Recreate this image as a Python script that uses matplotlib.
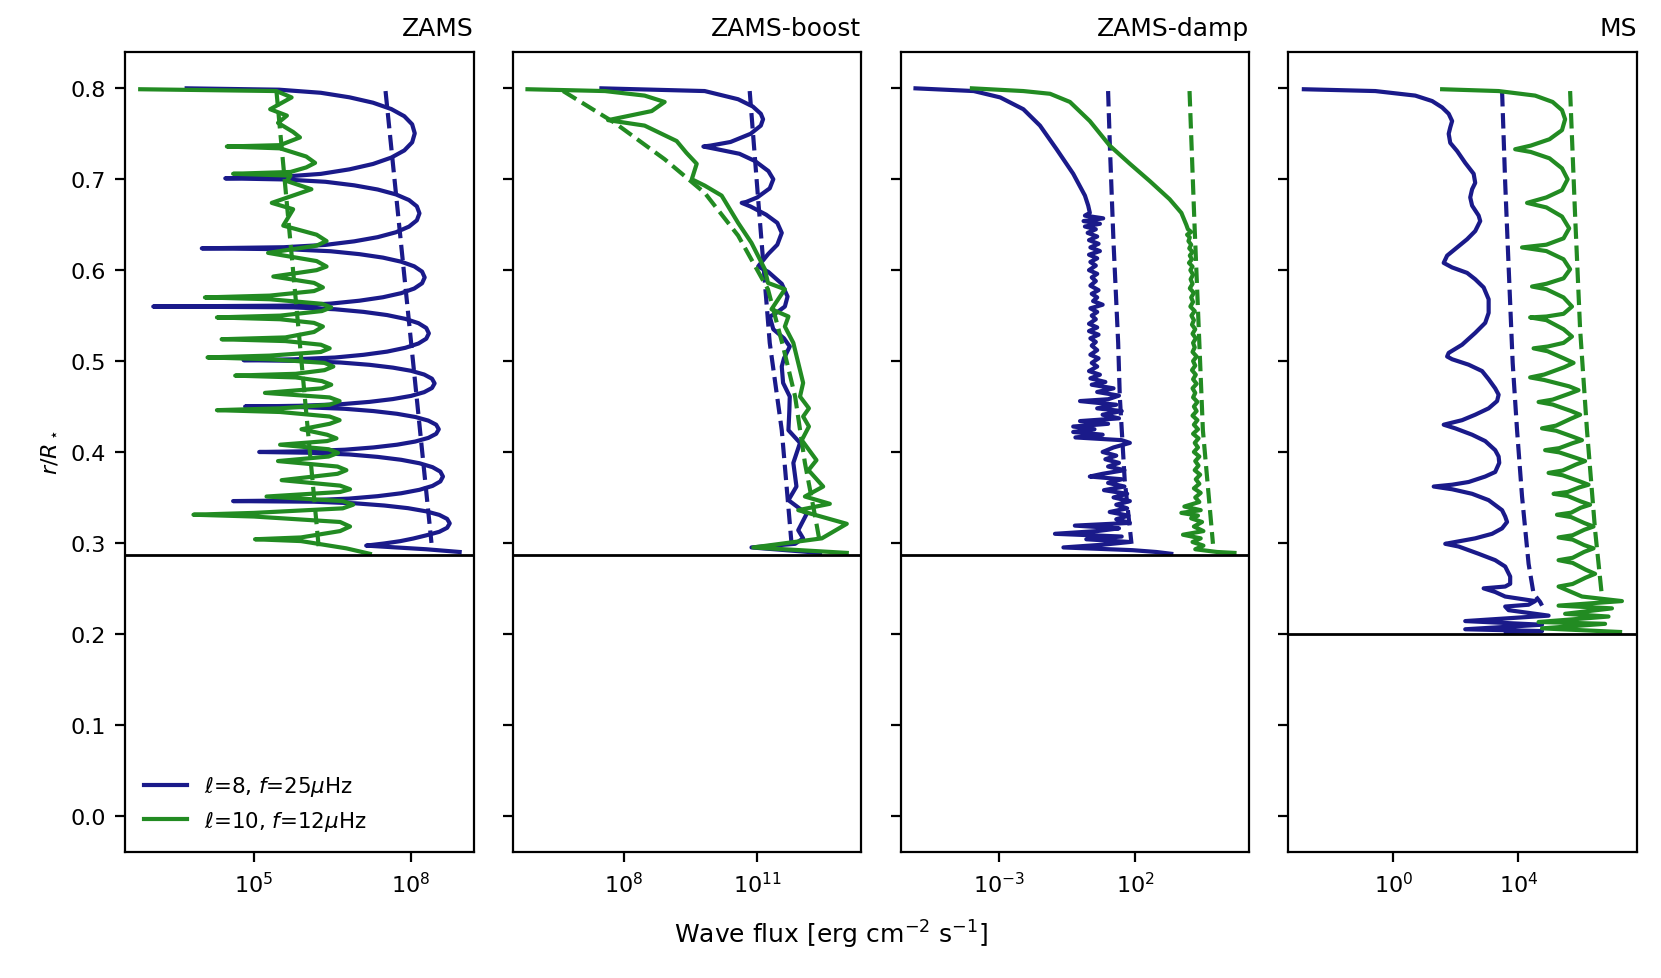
import numpy as np
import matplotlib.pyplot as plt

plt.rcParams["font.size"] = 8

# ---- ZAMS ----
zams_l8_r = [0.800,
             0.7985, 0.7951, 0.7901, 0.7842, 0.7772, 0.7693, 0.7604, 0.7505, 0.7406, 0.7317, 0.7238, 0.7168, 0.7109, 0.7059, 0.7025, 0.701,
             0.6998, 0.6972, 0.6933, 0.6887, 0.6833, 0.6771, 0.6702, 0.6625, 0.6548, 0.6479, 0.6417, 0.6363, 0.6317, 0.6278, 0.6252, 0.624,
             0.6230, 0.6208, 0.6176, 0.6138, 0.6093, 0.6042, 0.5984, 0.592, 0.5856, 0.5798, 0.5747, 0.5702, 0.5664, 0.5632, 0.5610, 0.560,
             0.5591, 0.557, 0.5541, 0.5506, 0.5464, 0.5417, 0.5364, 0.5305, 0.5246, 0.5193, 0.5146, 0.5104, 0.5069, 0.5039, 0.5019, 0.501,
             0.5002, 0.4984, 0.4959, 0.4928, 0.4893, 0.4852, 0.4806, 0.4755, 0.4704, 0.4658, 0.4617, 0.4582, 0.4551, 0.4525, 0.4508, 0.450,
             0.4493, 0.4475, 0.445, 0.442, 0.4385, 0.4345, 0.430, 0.425, 0.420, 0.4155, 0.4115, 0.408, 0.405, 0.4025, 0.4007, 0.400,
             0.3992, 0.3973, 0.3946, 0.3914, 0.3876, 0.3833, 0.3784, 0.373, 0.3676, 0.3627, 0.3584, 0.3546, 0.3514, 0.3487, 0.3468, 0.346,
             0.3453, 0.3435, 0.3411, 0.3382, 0.3347, 0.3308, 0.3264, 0.3215, 0.3166, 0.3122, 0.3083, 0.3048, 0.3019, 0.2994, 0.2977, 0.297,
             0.293, 0.290]
zams_l8_logF = [3.71,
                5.48, 6.28, 6.83, 7.28, 7.63, 7.88, 8.03, 8.08, 8.03, 7.88, 7.63, 7.28, 6.83, 6.28, 5.48, 4.45,
                5.57, 6.37, 6.92, 7.37, 7.72, 7.97, 8.12, 8.17, 8.12, 7.97, 7.72, 7.37, 6.92, 6.37, 5.57, 4.00,
                5.67, 6.47, 7.02, 7.47, 7.82, 8.07, 8.22, 8.27, 8.22, 8.07, 7.82, 7.47, 7.02, 6.47, 5.67, 3.07,
                5.75, 6.55, 7.10, 7.55, 7.90, 8.15, 8.30, 8.35, 8.30, 8.15, 7.90, 7.55, 7.10, 6.55, 5.75, 4.80,
                5.86, 6.66, 7.21, 7.66, 8.01, 8.26, 8.41, 8.46, 8.41, 8.26, 8.01, 7.66, 7.21, 6.66, 5.86, 4.83,
                5.94, 6.74, 7.29, 7.74, 8.09, 8.34, 8.49, 8.54, 8.49, 8.34, 8.09, 7.74, 7.29, 6.74, 5.94, 5.10,
                6.02, 6.82, 7.37, 7.82, 8.17, 8.42, 8.57, 8.62, 8.57, 8.42, 8.17, 7.82, 7.37, 6.82, 6.02, 4.60,
                6.15, 6.95, 7.50, 7.95, 8.30, 8.55, 8.70, 8.75, 8.70, 8.55, 8.30, 8.05, 7.80, 7.50, 7.25, 7.15,
                8.30, 8.94]
zams_l8_fit_r = [0.797, 0.300]
zams_l8_fit_logF = [7.52, 8.40]

zams_l10_r = [0.799, 0.797, 0.790, 0.777, 0.770, 0.762,
              0.752, 0.746, 0.742, 0.7375, 0.736, 0.734,
              0.725, 0.718, 0.713, 0.708, 0.706, 0.704,
              0.698, 0.689, 0.674, 0.667, 0.649,
              0.639, 0.632, 0.627, 0.619,
              0.610, 0.604, 0.600, 0.593,
              0.586, 0.581, 0.577, 0.572, 0.570, 0.568,
              0.563, 0.559, 0.555, 0.550, 0.548, 0.546,
              0.542, 0.538, 0.532, 0.526, 0.524, 0.522,
              0.518, 0.514, 0.510, 0.506, 0.504, 0.502,
              0.498, 0.494, 0.490, 0.486, 0.484, 0.482,
              0.478, 0.474, 0.470, 0.465,
              0.460, 0.456, 0.452, 0.448, 0.446, 0.444,
              0.439, 0.435, 0.431, 0.425,
              0.419, 0.415, 0.412, 0.408,
              0.403, 0.399, 0.395, 0.390,
              0.384, 0.380, 0.376, 0.369,
              0.363, 0.359, 0.356, 0.351,
              0.346, 0.342, 0.338, 0.333, 0.331, 0.329,
              0.323, 0.318, 0.313, 0.306, 0.304, 0.302,
              0.294, 0.288]
zams_l10_logF = [2.82, 5.43, 5.72, 5.31, 5.63, 5.46,
                 5.75, 5.88, 5.70, 5.50, 4.48, 5.50,
                 6.00, 6.17, 6.00, 5.70, 4.60, 5.70,
                 5.63, 6.10, 5.34, 5.75, 5.56,
                 6.20, 6.39, 6.20, 5.27,
                 6.20, 6.39, 6.20, 5.37,
                 6.15, 6.32, 6.15, 5.30, 4.06, 5.30,
                 6.30, 6.48, 6.30, 5.50, 4.29, 5.50,
                 6.15, 6.32, 6.15, 5.60, 4.38, 5.60,
                 6.28, 6.45, 6.28, 5.30, 4.11, 5.30,
                 6.35, 6.52, 6.35, 5.80, 4.64, 5.80,
                 6.30, 6.48, 6.30, 5.21,
                 6.45, 6.64, 6.45, 5.50, 4.29, 5.50,
                 6.45, 6.64, 6.45, 5.91,
                 6.40, 6.58, 6.40, 5.50,
                 6.43, 6.61, 6.43, 5.46,
                 6.60, 6.77, 6.60, 5.53,
                 6.65, 6.84, 6.65, 5.24,
                 6.70, 6.90, 6.70, 5.00, 3.84, 5.00,
                 6.65, 6.84, 6.65, 5.90, 5.02, 5.90,
                 6.77, 7.22]
zams_l10_fit_r = [0.797, 0.295]
zams_l10_fit_logF = [5.43, 6.24]

# ---- ZAMS-boost ----
boost_l8_r = [0.800, 0.797, 0.788, 0.780, 0.772, 0.766, 0.759, 0.750, 0.741, 0.737,
              0.736, 0.733, 0.728, 0.720, 0.709, 0.700, 0.690, 0.680, 0.675, 0.674,
              0.670, 0.661, 0.652, 0.641, 0.628, 0.618, 0.606, 0.604, 0.598, 0.585,
              0.571, 0.560, 0.552, 0.549, 0.535, 0.525, 0.516, 0.503, 0.494, 0.476,
              0.461, 0.445, 0.424, 0.410, 0.388, 0.362, 0.347, 0.332, 0.314, 0.305,
              0.299, 0.295, 0.289]
boost_l8_logF = [7.50, 9.82, 10.57, 10.90, 11.08, 11.13, 11.08, 10.85, 10.40, 9.95,
                 9.79, 10.10, 10.60, 10.95, 11.25, 11.36, 11.28, 11.00, 10.75, 10.65,
                 10.85, 11.20, 11.45, 11.55, 11.45, 11.25, 11.05, 11.02, 11.25, 11.55,
                 11.68, 11.62, 11.40, 11.28, 11.36, 11.60, 11.73, 11.60, 11.55, 11.58,
                 11.73, 11.72, 11.70, 11.96, 11.81, 11.88, 11.70, 12.11, 11.92, 12.03,
                 11.85, 10.87, 12.41]
boost_l8_fit_r = [0.797, 0.678, 0.520, 0.424, 0.299]
boost_l8_fit_logF = [10.83, 11.02, 11.28, 11.55, 11.77]

boost_l10_r = [0.799, 0.797, 0.792, 0.785, 0.775, 0.765, 0.759, 0.742, 0.729, 0.717,
               0.700, 0.693, 0.682, 0.652, 0.630, 0.601, 0.586, 0.579, 0.557, 0.549,
               0.538, 0.520, 0.476, 0.461, 0.448, 0.439, 0.428, 0.413, 0.391, 0.380,
               0.362, 0.351, 0.343, 0.336, 0.321, 0.305, 0.295, 0.289]
boost_l10_logF = [5.84, 7.58, 8.47, 8.92, 8.63, 7.65, 8.47, 9.19, 9.41, 9.64,
                  9.53, 9.82, 10.20, 10.57, 10.87, 11.17, 11.24, 11.62, 11.32, 11.70,
                  11.62, 11.81, 12.03, 11.96, 12.16, 12.03, 12.16, 12.00, 12.33, 12.15,
                  12.48, 12.07, 12.63, 11.92, 13.01, 12.45, 10.91, 13.01]
boost_l10_fit_r = [0.797, 0.762, 0.722, 0.685, 0.638, 0.579, 0.516, 0.461, 0.388, 0.329, 0.299]
boost_l10_fit_logF = [6.64, 7.80, 8.92, 9.82, 10.57, 11.24, 11.58, 11.85, 12.07, 12.30, 12.41]

# ---- ZAMS-damp ----
damp_l8_r = [0.800, 0.797, 0.790, 0.777, 0.759, 0.733, 0.706, 0.682, 0.671, 0.663,
             0.660, 0.657, 0.654, 0.651, 0.648, 0.645, 0.641, 0.637, 0.633, 0.629,
             0.625, 0.621, 0.617, 0.613, 0.609, 0.605, 0.600, 0.596, 0.592, 0.588,
             0.583, 0.578, 0.574, 0.570, 0.566, 0.562, 0.558, 0.554, 0.550, 0.546,
             0.541, 0.537, 0.533, 0.529, 0.525, 0.521, 0.517, 0.512, 0.507, 0.503,
             0.498, 0.494, 0.489, 0.485, 0.481, 0.477, 0.474, 0.470, 0.466, 0.462,
             0.458, 0.456, 0.452, 0.448, 0.445, 0.441, 0.437, 0.434, 0.431, 0.428,
             0.425, 0.422, 0.419, 0.416, 0.413, 0.410, 0.405, 0.400, 0.396, 0.392,
             0.388, 0.384, 0.380, 0.376, 0.373, 0.370, 0.366, 0.362, 0.358, 0.354,
             0.350, 0.346, 0.342, 0.338, 0.334, 0.330, 0.326, 0.322, 0.319, 0.316,
             0.313, 0.310, 0.307, 0.304, 0.301, 0.298, 0.295, 0.292, 0.290, 0.288]
damp_l8_logF = [-6.07, -3.93, -2.96, -2.11, -1.50, -0.89, -0.28, 0.15, 0.27, 0.33,
                0.15, 0.82, 0.10, 0.70, 0.15, 0.55, 0.25, 0.60, 0.30, 0.65,
                0.35, 0.70, 0.30, 0.60, 0.35, 0.55, 0.30, 0.60, 0.40, 0.55,
                0.35, 0.65, 0.40, 0.60, 0.45, 0.80, 0.35, 0.60, 0.40, 0.55,
                0.30, 0.60, 0.30, 0.65, 0.35, 0.55, 0.40, 0.60, 0.35, 0.65,
                0.40, 0.60, 0.30, 0.70, 0.35, 0.90, 0.40, 1.20, 0.60, 1.40,
                1.00, -0.03, 1.30, 0.60, 1.50, 0.80, 1.40, -0.03, 1.00, -0.28,
                0.50, -0.28, 0.80, -0.20, 1.50, 1.80, 1.20, 0.80, 1.30, 0.90,
                1.40, 1.00, 1.60, 0.80, 0.33, 1.50, 1.00, 1.60, 0.85, 1.70,
                1.20, 1.80, 1.30, 1.70, 1.06, 1.75, 1.30, 1.80, -0.22, 1.40,
                0.60, -0.95, 1.50, 0.20, 1.80, 0.80, -0.64, 1.90, 2.77, 3.32]
damp_l8_fit_r = [0.797, 0.733, 0.630, 0.520, 0.461, 0.369, 0.299]
damp_l8_fit_logF = [1.00, 1.07, 1.20, 1.37, 1.43, 1.61, 1.86]

damp_l10_r = [0.800, 0.797, 0.794, 0.785, 0.764, 0.737, 0.717, 0.698, 0.678, 0.663,
              0.650, 0.645, 0.642, 0.639, 0.636, 0.632, 0.628, 0.624, 0.620, 0.616,
              0.612, 0.608, 0.604, 0.600, 0.595, 0.590, 0.585, 0.580, 0.575, 0.570,
              0.565, 0.560, 0.555, 0.550, 0.545, 0.540, 0.535, 0.530, 0.525, 0.520,
              0.515, 0.510, 0.505, 0.500, 0.495, 0.490, 0.485, 0.480, 0.475, 0.470,
              0.465, 0.460, 0.455, 0.450, 0.445, 0.440, 0.435, 0.430, 0.425, 0.420,
              0.415, 0.410, 0.405, 0.400, 0.395, 0.390, 0.385, 0.380, 0.375, 0.370,
              0.365, 0.360, 0.355, 0.350, 0.345, 0.340, 0.336, 0.333, 0.330, 0.327,
              0.323, 0.318, 0.313, 0.309, 0.305, 0.301, 0.297, 0.293, 0.290, 0.289]
damp_l10_logF = [-4.00, -2.11, -1.13, -0.40, 0.33, 1.06, 1.80, 2.53, 3.26, 3.69,
                 3.87, 3.93, 4.05, 3.90, 4.00, 3.95, 4.05, 3.98, 4.10, 4.00,
                 4.08, 3.97, 4.10, 4.02, 4.12, 4.03, 4.10, 4.00, 4.15, 4.05,
                 4.12, 4.02, 4.18, 4.06, 4.15, 4.08, 4.20, 4.10, 4.22, 4.12,
                 4.18, 4.10, 4.25, 4.12, 4.20, 4.08, 4.22, 4.12, 4.25, 4.10,
                 4.20, 4.12, 4.28, 4.15, 4.25, 4.10, 4.28, 4.15, 4.30, 4.12,
                 4.32, 4.18, 4.30, 4.15, 4.35, 4.20, 4.32, 4.18, 4.38, 4.22,
                 4.35, 4.15, 4.40, 4.20, 4.35, 3.80, 4.40, 3.69, 4.30, 4.05,
                 4.45, 4.15, 4.50, 3.75, 4.40, 4.10, 4.50, 4.20, 5.00, 5.64]
damp_l10_fit_r = [0.797, 0.652, 0.424, 0.299]
damp_l10_fit_logF = [3.99, 4.17, 4.48, 4.85]

# ---- MS ----
ms_l8_r = [0.799, 0.797, 0.792, 0.786, 0.779, 0.772, 0.764, 0.757, 0.750, 0.740,
           0.731, 0.718, 0.706, 0.696, 0.689, 0.680, 0.671, 0.660, 0.654, 0.643,
           0.634, 0.625, 0.616, 0.608, 0.603, 0.597, 0.590, 0.581, 0.568, 0.553,
           0.542, 0.531, 0.518, 0.509, 0.505, 0.502, 0.496, 0.489, 0.480, 0.470,
           0.463, 0.456, 0.448, 0.441, 0.435, 0.430, 0.426, 0.419, 0.412, 0.402,
           0.395, 0.388, 0.378, 0.373, 0.367, 0.364, 0.362, 0.359, 0.354, 0.347,
           0.336, 0.329, 0.323, 0.316, 0.310, 0.305, 0.301, 0.299, 0.296, 0.288,
           0.281, 0.274, 0.263, 0.255, 0.252, 0.250, 0.246, 0.241, 0.236, 0.232,
           0.230, 0.226, 0.220, 0.214, 0.210, 0.205, 0.203, 0.202]
ms_l8_logF = [-2.87, -0.58, 0.70, 1.24, 1.56, 1.77, 1.88, 1.82, 1.77, 1.82,
              2.04, 2.30, 2.57, 2.62, 2.52, 2.46, 2.52, 2.73, 2.78, 2.62,
              2.36, 2.04, 1.72, 1.61, 1.88, 2.36, 2.62, 2.89, 3.05, 3.05,
              2.94, 2.62, 2.20, 1.77, 1.72, 1.88, 2.41, 2.84, 3.05, 3.26,
              3.37, 3.32, 3.05, 2.62, 2.20, 1.61, 1.98, 2.52, 2.94, 3.26,
              3.37, 3.39, 3.26, 2.94, 2.41, 1.88, 1.29, 1.88, 2.52, 3.05,
              3.48, 3.58, 3.64, 3.48, 3.16, 2.62, 1.98, 1.66, 2.09, 2.73,
              3.26, 3.58, 3.74, 3.74, 3.58, 2.89, 3.26, 3.58, 4.54, 4.33,
              3.58, 3.69, 4.97, 2.30, 4.76, 2.30, 4.76, 3.60]
ms_l8_fit_r = [0.797, 0.696, 0.604, 0.498, 0.424, 0.351, 0.277, 0.244, 0.235, 0.231]
ms_l8_fit_logF = [3.48, 3.58, 3.69, 3.82, 3.96, 4.12, 4.33, 4.49, 4.70, 4.76]

ms_l10_r = [0.799, 0.797, 0.792, 0.785, 0.776, 0.766, 0.754, 0.744, 0.737, 0.733,
            0.730, 0.723, 0.712, 0.700, 0.688, 0.680, 0.674, 0.669, 0.659, 0.646,
            0.635, 0.628, 0.625, 0.621, 0.612, 0.601, 0.591, 0.585, 0.582, 0.579,
            0.570, 0.560, 0.552, 0.549, 0.548, 0.545, 0.535, 0.527, 0.520, 0.516,
            0.514,
            0.5108, 0.5028, 0.498, 0.4932, 0.4852, 0.482,
            0.4792, 0.4722, 0.468, 0.4641, 0.4576, 0.455,
            0.4522, 0.4452, 0.441, 0.4365, 0.429, 0.426,
            0.4234, 0.4169, 0.413, 0.4097, 0.4042, 0.402,
            0.3996, 0.3936, 0.390, 0.3861, 0.3796, 0.377,
            0.3744, 0.3679, 0.364, 0.361, 0.356, 0.354,
            0.3516, 0.3456, 0.342, 0.3387, 0.3332, 0.331,
            0.3284, 0.3219, 0.318, 0.3144, 0.3084, 0.306,
            0.3036, 0.2976, 0.294, 0.2901, 0.2836, 0.281,
            0.278, 0.2705, 0.266, 0.2618, 0.2548, 0.252,
            0.241, 0.236, 0.231, 0.228, 0.222, 0.219, 0.213, 0.211, 0.206, 0.202]
ms_l10_logF = [1.56, 3.37, 4.54, 5.10, 5.40, 5.50, 5.40, 5.00, 4.40, 3.90,
               4.40, 5.00, 5.40, 5.58, 5.40, 4.90, 4.28, 4.90, 5.40, 5.63,
               5.45, 4.90, 4.12, 4.90, 5.45, 5.66, 5.45, 4.90, 4.44, 4.90,
               5.45, 5.72, 5.45, 4.90, 4.38, 4.90, 5.45, 5.72, 5.45, 4.94,
               4.49,
               4.94, 5.47, 5.77, 5.47, 4.83, 4.38,
               4.83, 5.63, 5.93, 5.63, 5.10, 4.65,
               5.10, 5.68, 5.98, 5.68, 5.21, 4.76,
               5.21, 5.74, 6.04, 5.74, 5.31, 4.86,
               5.31, 5.84, 6.14, 5.84, 5.42, 4.97,
               5.42, 5.95, 6.25, 5.95, 5.58, 5.13,
               5.58, 6.00, 6.30, 6.00, 5.69, 5.24,
               5.69, 6.11, 6.41, 6.11, 5.74, 5.29,
               5.74, 6.11, 6.41, 6.11, 5.74, 5.29,
               5.74, 6.16, 6.46, 6.16, 5.74, 5.29,
               6.04, 7.32, 5.29, 7.00, 5.50, 6.89, 4.65, 6.78, 4.76, 7.26]
ms_l10_fit_r = [0.797, 0.660, 0.535, 0.424, 0.314, 0.241]
ms_l10_fit_logF = [5.66, 5.82, 5.98, 6.20, 6.46, 6.68]

titles = ["ZAMS", "ZAMS-boost", "ZAMS-damp", "MS"]
base_r = [0.287, 0.287, 0.287, 0.200]
xlims = [(2.53, 9.21), (5.51, 13.34), (-6.62, 6.18), (-3.37, 7.80)]
xticks = [(5, 8), (8, 11), (-3, 2), (0, 4)]

l8_runs = [(zams_l8_logF, zams_l8_r), (boost_l8_logF, boost_l8_r),
           (damp_l8_logF, damp_l8_r), (ms_l8_logF, ms_l8_r)]
l8_fits = [(zams_l8_fit_logF, zams_l8_fit_r), (boost_l8_fit_logF, boost_l8_fit_r),
           (damp_l8_fit_logF, damp_l8_fit_r), (ms_l8_fit_logF, ms_l8_fit_r)]
l10_runs = [(zams_l10_logF, zams_l10_r), (boost_l10_logF, boost_l10_r),
            (damp_l10_logF, damp_l10_r), (ms_l10_logF, ms_l10_r)]
l10_fits = [(zams_l10_fit_logF, zams_l10_fit_r), (boost_l10_fit_logF, boost_l10_fit_r),
            (damp_l10_fit_logF, damp_l10_fit_r), (ms_l10_fit_logF, ms_l10_fit_r)]

blue = "#1a1a8a"
green = "forestgreen"

fig, axes = plt.subplots(1, 4, sharey=True, figsize=(8.305, 4.895), dpi=200)
fig.subplots_adjust(left=0.0753, right=0.9855, bottom=0.1287, top=0.9459, wspace=0.112)

for i, ax in enumerate(axes):
    f, r = l8_runs[i]
    ax.plot(10 ** np.array(f), r, color=blue, lw=1.5, label=r"$\ell$=8, $f$=25$\mu$Hz")
    f, r = l8_fits[i]
    ax.plot(10 ** np.array(f), r, color=blue, lw=1.5, ls="--")
    f, r = l10_runs[i]
    ax.plot(10 ** np.array(f), r, color=green, lw=1.5, label=r"$\ell$=10, $f$=12$\mu$Hz")
    f, r = l10_fits[i]
    ax.plot(10 ** np.array(f), r, color=green, lw=1.5, ls="--")
    ax.axhline(base_r[i], color="k", lw=1.0)

    ax.set_xscale("log")
    ax.set_xlim(10 ** xlims[i][0], 10 ** xlims[i][1])
    ax.set_xticks([10.0 ** e for e in xticks[i]])
    ax.set_xticklabels([r"$10^{%d}$" % e for e in xticks[i]])
    ax.minorticks_off()
    ax.set_title(titles[i], loc="right", fontsize=9)

axes[0].set_ylim(-0.04, 0.84)
axes[0].set_yticks(np.arange(0, 0.81, 0.1))
axes[0].set_ylabel(r"$r/R_\star$")
axes[0].legend(loc="lower left", frameon=False, fontsize=7.7)
fig.text(0.5, 0.045, r"Wave flux [erg cm$^{-2}$ s$^{-1}$]", ha="center", va="center", fontsize=9)

fig.savefig("out.png", dpi=200)
